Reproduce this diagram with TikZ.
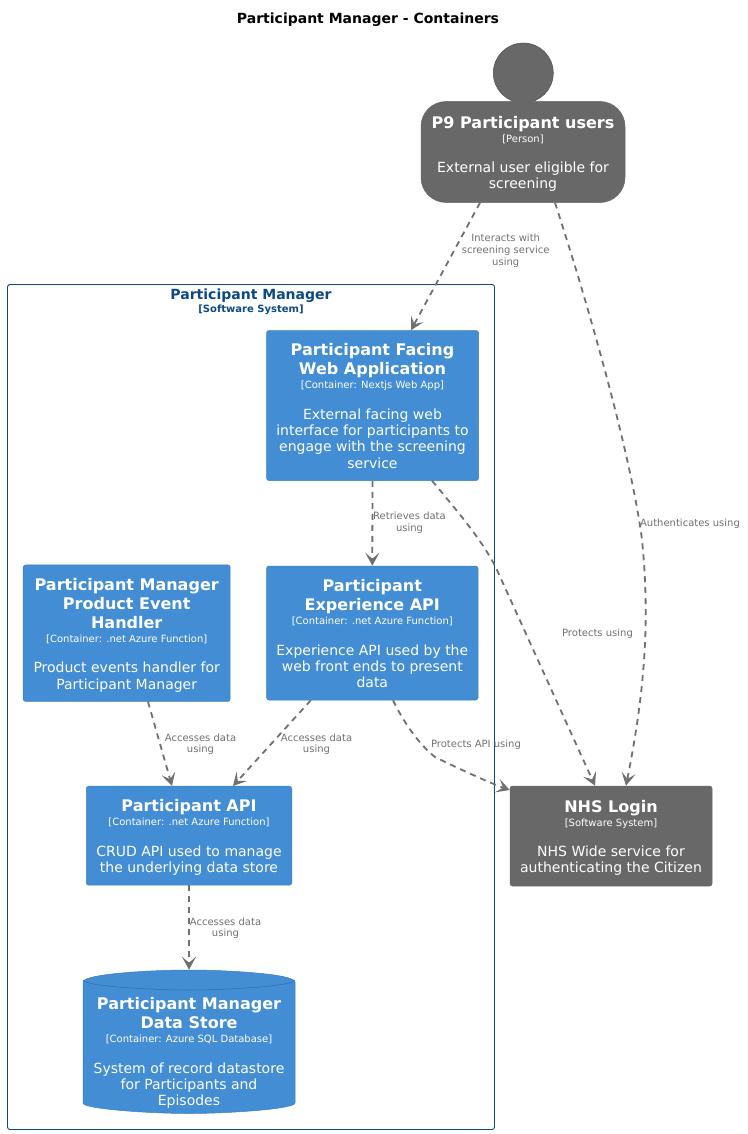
\documentclass[tikz,border=0pt]{standalone}
\usepackage{fontspec}
\setmainfont{DejaVu Sans}
\usetikzlibrary{arrows.meta}
\definecolor{blueF}{HTML}{438DD5}
\definecolor{blueD}{HTML}{3C7FC0}
\definecolor{grayF}{HTML}{686868}
\definecolor{grayD}{HTML}{4D4D4D}
\definecolor{edgeC}{HTML}{707070}
\definecolor{boundC}{HTML}{0B4884}
\newcommand\tl[1]{\rule[-5pt]{0pt}{19pt}{\fontsize{16}{19}\selectfont\bfseries #1}}
\newcommand\tg[1]{\rule[-3pt]{0pt}{12pt}{\fontsize{10}{12}\selectfont #1}}
\newcommand\tb{\rule{0pt}{15.5pt}}
\newcommand\td[1]{\rule[-4pt]{0pt}{16.2pt}{\fontsize{14}{16}\selectfont #1}}
\newcommand\el[1]{\rule[-3pt]{0pt}{11.7pt}{\fontsize{10}{11}\selectfont #1}}
\newenvironment{stk}{\def\arraystretch{0}\begin{tabular}{@{}c@{}}\rule{0pt}{3pt}\\}{\end{tabular}}
\newenvironment{stq}{\def\arraystretch{0}\begin{tabular}{@{}c@{}}}{\end{tabular}}
\tikzset{
  x=1pt,y=-1pt,
  cbox/.style={rectangle,rounded corners=2.5pt,draw=blueD,fill=blueF,text=white,inner sep=0pt,line width=.5pt},
  gbox/.style={cbox,draw=grayF,fill=grayF},
  rel/.style={draw=edgeC,line width=1.8pt,dash pattern=on 6pt off 5pt,-{Stealth[length=13pt,width=14pt,inset=6pt]}},
  rlabel/.style={text=edgeC,inner sep=0pt},
}
\begin{document}
\begin{tikzpicture}
\useasboundingbox (0,0) rectangle (747,1134);
\node (title) at (368,19.5) {\fontsize{14}{16}\selectfont\bfseries Participant Manager - Containers};
% boundary
\node[rectangle,rounded corners=2.5pt,draw=boundC,line width=.9pt,minimum width=487pt,minimum height=845pt,inner sep=0pt] (bound) at (251,707) {};
\node[text=boundC,inner sep=0pt] (boundT) at (251,301) {\begin{stq}\rule[-4pt]{0pt}{16pt}{\fontsize{14}{16}\selectfont\bfseries Participant Manager}\\\rule[-3pt]{0pt}{12pt}{\fontsize{10}{12}\selectfont\bfseries [Software System]}\end{stq}};
% person
\node[circle,draw=grayD,fill=grayF,minimum size=60pt,inner sep=0pt,line width=.5pt] (head) at (523.3,73) {};
\node[gbox,rounded corners=25pt,minimum width=204pt,minimum height=101pt] (person) at (523,152) {\begin{stk}\tl{P9 Participant users}\\\tg{[Person]}\\\tb\\\td{External user eligible for}\\\td{screening}\end{stk}};
% containers
\node[cbox,minimum width=212pt,minimum height=150pt] (web) at (372.5,405.5) {\begin{stk}\tl{Participant Facing}\\\tl{Web Application}\\\tg{[Container: Nextjs Web App]}\\\tb\\\td{External facing web}\\\td{interface for participants to}\\\td{engage with the screening}\\\td{service}\end{stk}};
\node[cbox,minimum width=211.5pt,minimum height=134pt] (exp) at (372.3,633) {\begin{stk}\tl{Participant}\\\tl{Experience API}\\\tg{[Container: .net Azure Function]}\\\tb\\\td{Experience API used by the}\\\td{web front ends to present}\\\td{data}\end{stk}};
\node[cbox,minimum width=207pt,minimum height=136.5pt] (handler) at (126.7,633.2) {\begin{stk}\tl{Participant Manager}\\\tl{Product Event}\\\tl{Handler}\\\tg{[Container: .net Azure Function]}\\\tb\\\td{Product events handler for}\\\td{Participant Manager}\end{stk}};
\node[cbox,minimum width=205.5pt,minimum height=99pt] (api) at (189,835.7) {\begin{stk}\tl{Participant API}\\\tg{[Container: .net Azure Function]}\\\tb\\\td{CRUD API used to manage}\\\td{the underlying data store}\end{stk}};
\node[gbox,minimum width=202pt,minimum height=100pt] (nhs) at (611,836) {\begin{stk}\tl{NHS Login}\\\tg{[Software System]}\\\tb\\\td{NHS Wide service for}\\\td{authenticating the Citizen}\end{stk}};
% database
\path[fill=blueF,draw=blueD,line width=.5pt] (83,982) .. controls (83,974) and (150,970) .. (189,970) .. controls (228,970) and (295,974) .. (295,982) -- (295,1103) .. controls (295,1109) and (228,1113.5) .. (189,1113.5) .. controls (150,1113.5) and (83,1109) .. (83,1103) -- cycle;
\draw[blueD!85!black,line width=.5pt] (83,980) .. controls (83,986) and (150,990) .. (189,990) .. controls (228,990) and (295,986) .. (295,980);
\node[inner sep=0pt,minimum width=212pt,minimum height=143.5pt] (db) at (189,1041.7) {};
\node[text=white,inner sep=0pt] (dbtext) at (189,1051) {\begin{stk}\tl{Participant Manager}\\\tl{Data Store}\\\tg{[Container: Azure SQL Database]}\\\tb\\\td{System of record datastore}\\\td{for Participants and}\\\td{Episodes}\end{stk}};
% connectors
\draw[rel] ([xshift=-43pt]person.south) -- ([xshift=38.5pt]web.north);
\draw[rel] ([xshift=32pt]person.south) .. controls (590,310) and (632,460) .. (642,540) .. controls (650,620) and (645,690) .. ([xshift=15pt]nhs.north);
\draw[rel] (web.south) -- (exp.north);
\draw[rel] ([xshift=59.5pt]web.south) .. controls (465,520) and (485,545) .. (497,570) -- ([xshift=-16pt]nhs.north);
\draw[rel] ([xshift=-61.5pt]exp.south) -- ([xshift=44pt]api.north);
\draw[rel] ([xshift=20.7pt]exp.south) .. controls (405,725) and (420,745) .. (435,757) .. controls (455,767) and (490,783) .. ([yshift=46pt]nhs.west);
\draw[rel] ([xshift=21.3pt]handler.south) -- ([xshift=-17pt]api.north);
\draw[rel] (api.south) -- (db.north);
% labels
\node[rlabel] (l1) at (505.7,250.5) {\begin{stq}\el{Interacts with}\\\el{screening service}\\\el{using}\end{stq}};
\node[rlabel] (l2) at (690,523.5) {\el{Authenticates using}};
\node[rlabel] (l3) at (409.5,522.5) {\begin{stq}\el{Retrieves data}\\\el{using}\end{stq}};
\node[rlabel] (l4) at (597.5,633.5) {\el{Protects using}};
\node[rlabel] (l5) at (200.5,744) {\begin{stq}\el{Accesses data}\\\el{using}\end{stq}};
\node[rlabel] (l6) at (316.5,744) {\begin{stq}\el{Accesses data}\\\el{using}\end{stq}};
\node[rlabel] (l7) at (476,744.5) {\el{Protects API using}};
\node[rlabel] (l8) at (225.5,928) {\begin{stq}\el{Accesses data}\\\el{using}\end{stq}};
\end{tikzpicture}
\end{document}
